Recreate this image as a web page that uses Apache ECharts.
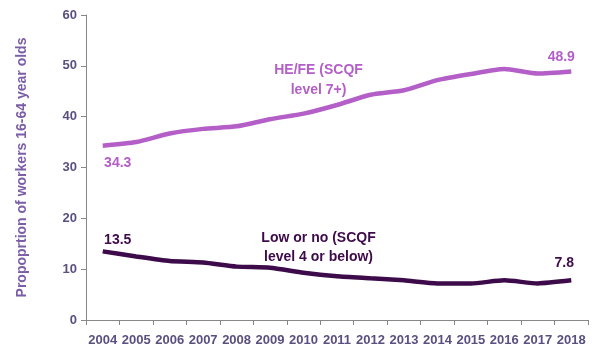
<!DOCTYPE html>
<html><head><meta charset="utf-8">
<script src="https://cdn.jsdelivr.net/npm/echarts@6/dist/echarts.min.js"></script>
<style>html,body{margin:0;padding:0;background:#fff}#c{width:602px;height:360px}</style>
</head><body><div id="c"></div>
<script>
const years = ['2004','2005','2006','2007','2008','2009','2010','2011','2012','2013','2014','2015','2016','2017','2018'];
const heFe = [34.3,35.0,36.7,37.6,38.1,39.5,40.6,42.3,44.3,45.2,47.2,48.4,49.4,48.5,48.9];
const lowNo = [13.5,12.5,11.6,11.3,10.5,10.3,9.3,8.6,8.2,7.8,7.2,7.2,7.8,7.2,7.8];
const yTitle = 'Propoprtion of workers 16-64 year olds';
const heName = 'HE/FE (SCQF\nlevel 7+)';
const lowName = 'Low or no (SCQF\nlevel 4 or below)';

const heColor = '#B45EC8', lowColor = '#3D0A4A', tickColor = '#5A5080';
const font = 'Liberation Sans, Arial, sans-serif';
const chart = echarts.init(document.getElementById('c'));
function lbl(pos,color,off){return {show:true,position:pos,color:color,fontWeight:'bold',fontSize:14,fontFamily:font,distance:7,offset:off};}
function withLabels(data, firstPos, firstOff, lastPos, lastOff, color){
  return data.map((v,i)=> i===0 ? {value:v,label:lbl(firstPos,color,firstOff)} : (i===data.length-1 ? {value:v,label:lbl(lastPos,color,lastOff)} : v));
}
chart.setOption({
  animation:false,
  grid:{left:86,right:14,top:15,bottom:40},
  xAxis:{type:'category',data:years,boundaryGap:true,
    axisLine:{lineStyle:{color:'#888',width:1}},
    axisTick:{show:true,alignWithLabel:false,interval:0,length:5,lineStyle:{color:'#888'}},
    axisLabel:{color:tickColor,fontWeight:'bold',fontSize:13,fontFamily:font,margin:14,interval:0}},
  yAxis:{type:'value',min:0,max:60,interval:10,
    name:yTitle,nameLocation:'middle',nameGap:57,
    nameTextStyle:{color:'#7B5EA7',fontWeight:'bold',fontSize:14,fontFamily:font},
    splitLine:{show:false},
    axisLine:{show:true,lineStyle:{color:'#888',width:1}},
    axisTick:{show:true,length:5,lineStyle:{color:'#888'}},
    axisLabel:{color:tickColor,fontWeight:'bold',fontSize:13,fontFamily:font,margin:9}},
  series:[
    {type:'line',data:withLabels(heFe,'bottom',[15,3],'top',[-10,0],heColor),smooth:0.2,symbol:'circle',symbolSize:0.1,showSymbol:true,
      lineStyle:{color:heColor,width:4.5},itemStyle:{color:heColor}},
    {type:'line',data:withLabels(lowNo,'top',[15,3],'top',[-7,-3],lowColor),smooth:0.2,symbol:'circle',symbolSize:0.1,showSymbol:true,
      lineStyle:{color:lowColor,width:4.5},itemStyle:{color:lowColor}}
  ]
});
const p1 = chart.convertToPixel({gridIndex:0},[ '2010', 52 ]);
const p2 = chart.convertToPixel({gridIndex:0},[ '2010', 18.5 ]);
chart.setOption({graphic:[
  {type:'text',x:p1[0]+15,y:p1[1]+4,style:{text:heName,fill:heColor,font:'bold 14px '+font,textAlign:'center',lineHeight:20}},
  {type:'text',x:p2[0]+15,y:p2[1]+3,style:{text:lowName,fill:lowColor,font:'bold 14px '+font,textAlign:'center',lineHeight:19}}
]});
</script></body></html>
